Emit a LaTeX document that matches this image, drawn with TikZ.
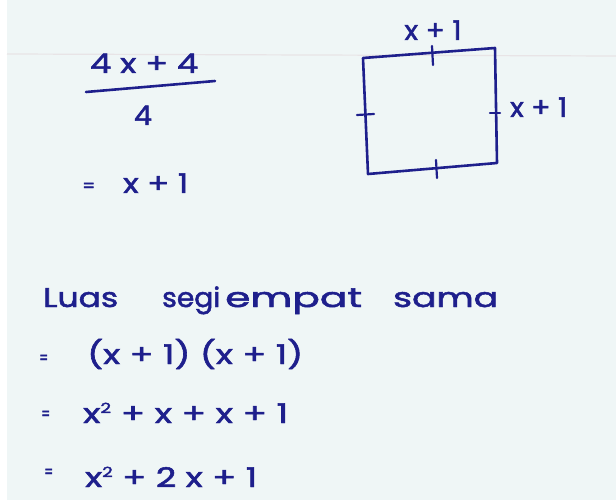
\documentclass[tikz,border=0pt]{standalone}
\usepackage{fontspec}
\usepackage{graphicx}
\setmainfont{Poppins}
\newfontfamily\handfont{Poppins}[FakeBold=1.8]
\newcommand{\hw}[2]{\resizebox{#1pt}{\height}{#2}}
\definecolor{ink}{HTML}{1E1F8C}
\definecolor{paper}{HTML}{EFF6F6}
\definecolor{rule}{HTML}{E8E4E6}
\begin{document}
\begin{tikzpicture}[x=1pt,y=-1pt,
  hand/.style={text=ink,inner sep=0pt,font=\handfont\fontsize{27}{30}\selectfont},
  small/.style={text=ink,inner sep=0pt,font=\handfont\fontsize{18}{20}\selectfont},
  pen/.style={draw=ink,line width=2.6pt,line cap=round,line join=round},
  tickmark/.style={draw=ink,line width=2.2pt,line cap=round}]
\useasboundingbox (0,0) rectangle (616,500);
\fill[paper] (0,0) rectangle (616,500);
\fill[white] (0,0) rectangle (7,500);
\draw[rule,line width=1.2pt] (7,54) -- (616,56);
% fraction
\node[hand,anchor=base west] (num) at (90,73) {\hw{108}{4 x + 4}};
\coordinate (fa) at (86,92);
\coordinate (fb) at (215,81);
\draw[pen] (fa) -- (fb);
\node[hand,anchor=base] (den) at (143,125) {\hw{18}{4}};
\node[small,anchor=base west] (eq0) at (82,192) {\hw{13}{=}};
\node[hand,anchor=base west] (res) at (123,193) {\hw{65}{x + 1}};
% square
\coordinate (A) at (363,58);
\coordinate (B) at (495,48);
\coordinate (C) at (497,163);
\coordinate (D) at (368,174);
\draw[pen] (A) -- (B) -- (C) -- (D) -- cycle;
\coordinate (t1) at (432,46); \coordinate (t2) at (433,65);
\coordinate (l1) at (357,115); \coordinate (l2) at (374,114);
\coordinate (r1) at (490,113); \coordinate (r2) at (500,113);
\coordinate (b1) at (436,160); \coordinate (b2) at (437,178);
\draw[tickmark] (t1) -- (t2);
\draw[tickmark] (l1) -- (l2);
\draw[tickmark] (r1) -- (r2);
\draw[tickmark] (b1) -- (b2);
\node[hand,anchor=base] (top) at (433,40) {\hw{57}{x + 1}};
\node[hand,anchor=base west] (side) at (510,117) {\hw{57}{x + 1}};
% text
\node[hand,anchor=base west] (w1) at (43,307) {\hw{75}{Luas}};
\node[hand,anchor=base west] (w2) at (162,307) {\hw{58}{segi}};
\node[hand,anchor=base west] (w3) at (225,307) {\hw{137}{empat}};
\node[hand,anchor=base west] (w4) at (393,307) {\hw{105}{sama}};
\node[small,anchor=base west] (eq1) at (39,364) {\hw{9}{=}};
\node[hand,anchor=base west] (l1e) at (87,364) {\hw{216}{(x + 1) (x + 1)}};
\node[small,anchor=base west] (eq2) at (41,420) {\hw{9}{=}};
\node[hand,anchor=base west] (l2e) at (83,423) {\hw{205}{x\raisebox{10pt}{\fontsize{14}{15}\selectfont 2} + x + x + 1}};
\node[small,anchor=base west] (eq3) at (44,478) {\hw{9}{=}};
\node[hand,anchor=base west] (l3e) at (85,487) {\hw{172}{x\raisebox{10pt}{\fontsize{14}{15}\selectfont 2} + 2 x + 1}};
\end{tikzpicture}
\end{document}
